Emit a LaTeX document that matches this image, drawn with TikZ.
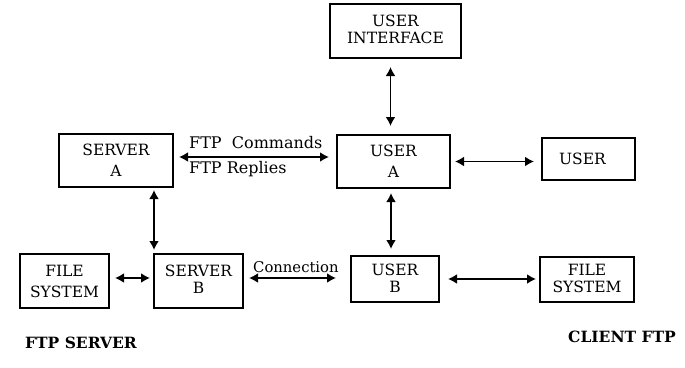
\documentclass[tikz,border=0pt]{standalone}
\usepackage{fontspec}
\setmainfont{DejaVu Serif}
\usetikzlibrary{arrows.meta}
\begin{document}
\begin{tikzpicture}[x=1pt,y=-1pt,
  box/.style={draw,line width=2pt,inner sep=0pt,align=center,
    font=\fontsize{15.5}{21}\selectfont},
  lbl/.style={inner sep=0pt,font=\fontsize{16}{18}\selectfont},
  ttl/.style={inner sep=0pt,font=\fontsize{15.5}{18}\selectfont\bfseries},
  link/.style={line width=1.9pt,{Latex[length=9pt,width=10pt]}-{Latex[length=9pt,width=10pt]}}]
\useasboundingbox (0,0) rectangle (685,367);
\node[box,minimum width=131pt,minimum height=54pt] (ui) at (395.5,31) {\raisebox{4pt}{\shortstack{USER\\[2pt]INTERFACE}}};
\node[box,minimum width=114pt,minimum height=53pt] (sa) at (116,160.5) {SERVER\\A};
\node[box,minimum width=113pt,minimum height=53pt] (ua) at (393.5,161.5) {USER\\A};
\node[box,minimum width=93pt,minimum height=42pt] (us) at (588.5,159) {\hspace*{-12pt}USER};
\node[box,minimum width=89pt,minimum height=54pt] (fsl) at (64.5,281) {FILE\\SYSTEM};
\node[box,minimum width=89pt,minimum height=54pt] (sb) at (198.5,281) {\raisebox{4pt}{\shortstack{SERVER\\[2pt]B}}};
\node[box,minimum width=88pt,minimum height=46pt] (ub) at (395,279) {\raisebox{2pt}{\shortstack{USER\\[2pt]B}}};
\node[box,minimum width=94pt,minimum height=45pt] (fsr) at (587,279.5) {\raisebox{2pt}{\shortstack{FILE\\[2pt]SYSTEM}}};
\node[lbl,anchor=west] (cmd) at (189,143) {FTP\ \ Commands};
\node[lbl,anchor=west] (rep) at (189,169) {FTP Replies};
\node[lbl,anchor=west,font=\fontsize{14.8}{18}\selectfont] (con) at (253,267) {Connection};
\node[ttl] (fsv) at (81,343) {FTP SERVER};
\node[ttl] (cft) at (622,337) {CLIENT FTP};
\draw[link,shorten <=8pt,shorten >=8pt] ([xshift=-5pt]ui.south) -- ([xshift=-3pt]ua.north);
\draw[link,shorten <=4pt,shorten >=7pt] (ua.east) -- (ua.east -| us.west);
\draw[link,shorten <=5pt,shorten >=7pt] ([yshift=3.5pt]sa.east) -- ([yshift=3.5pt]sa.east -| ua.west);
\draw[link,shorten <=2pt,shorten >=3pt] ([xshift=38pt]sa.south) -- ([xshift=38pt]sa.south |- sb.north);
\draw[link,shorten <=5pt,shorten >=3pt] ([yshift=3pt]fsl.east) -- ([yshift=3pt]fsl.east -| sb.west);
\draw[link,shorten <=5pt,shorten >=14pt] ([yshift=3pt]sb.east) -- ([yshift=3pt]sb.east -| ub.west);
\draw[link,shorten <=4pt,shorten >=6pt] ([xshift=-2.5pt]ua.south) -- ([xshift=-4pt]ub.north);
\draw[link,shorten <=8pt,shorten >=3pt] (ub.east) -- (ub.east -| fsr.west);
\end{tikzpicture}
\end{document}
